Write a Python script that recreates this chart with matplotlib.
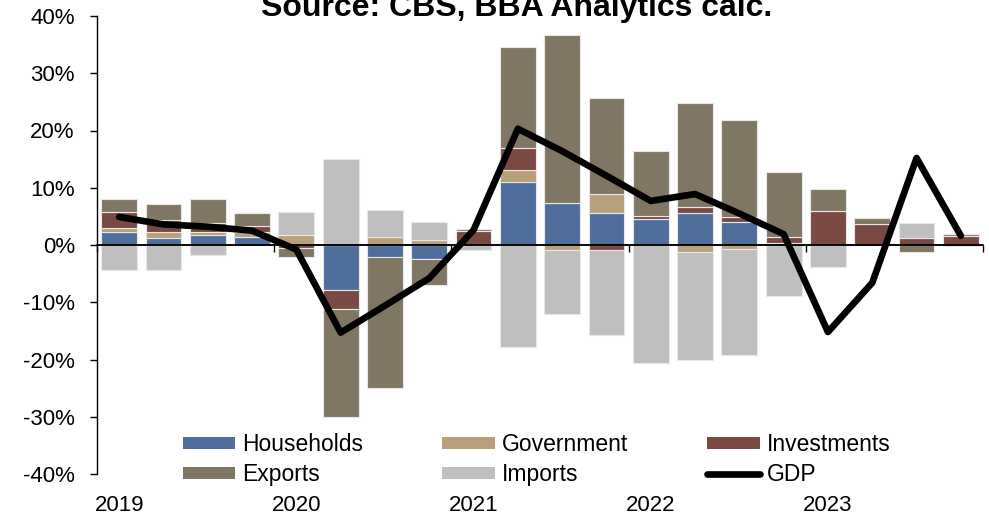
import matplotlib
matplotlib.use("Agg")
import matplotlib.pyplot as plt
import numpy as np
from matplotlib.patches import Patch
from matplotlib.lines import Line2D
from matplotlib.ticker import FixedLocator, FuncFormatter

plt.rcParams['font.family'] = ['Liberation Sans', 'DejaVu Sans']

# Quarterly contributions to GDP growth (percentage points), 2019Q1-2023Q4
quarters = [f"{y}Q{q}" for y in range(2019, 2024) for q in range(1, 5)]
years = ["2019", "2020", "2021", "2022", "2023"]

households = [2.2, 1.3, 1.7, 1.45, 0.2, -7.9, -2.1, -2.4, 0.0, 11.0,
              7.4, 5.6, 4.5, 5.6, 4.0, 0.0, 0.0, 0.0, 0.0, 0.0]
government = [0.75, 0.9, 0.5, 0.8, 1.5, 0.0, 1.4, 0.8, 0.0, 2.1,
              -0.9, 3.3, 0.0, -1.2, -0.7, 0.4, 0.0, 0.0, 0.0, -0.2]
investments = [2.8, 2.2, 1.6, 1.1, -0.6, -3.2, 0.0, 0.0, 2.4, 3.9,
               0.0, -0.8, 0.6, 1.0, 0.9, 1.0, 6.0, 3.6, 1.3, 1.5]
exports = [2.3, 2.7, 4.3, 2.2, -1.5, -19.0, -22.8, -4.5, 0.4, 17.6,
           29.2, 16.7, 11.3, 18.2, 17.0, 11.3, 3.7, 1.2, -1.3, 0.5]
imports = [-4.4, -4.4, -1.75, 0.0, 4.0, 15.0, 4.8, 3.3, -0.8, -17.9,
           -11.2, -14.9, -20.6, -18.8, -18.6, -8.9, -3.8, 0.0, 2.6, 0.0]
gdp = [4.9, 3.6, 3.2, 2.5, -0.8, -15.3, -10.6, -5.8, 2.6, 20.3,
       16.4, 12.1, 7.7, 8.9, 5.5, 1.9, -15.2, -6.6, 15.2, 1.6]

series = [
    ("Households", households, "#4F6E9B"),
    ("Government", government, "#B8A07C"),
    ("Investments", investments, "#7A4A42"),
    ("Exports", exports, "#7F7763"),
    ("Imports", imports, "#BFBFBF"),
]

W, H = 989, 517
fig = plt.figure(figsize=(W / 100, H / 100), dpi=100)
ax = fig.add_axes([97 / W, 1 - 474 / H, (983 - 97) / W, (474 - 16) / H])

x = np.arange(len(quarters))
pos_base = np.zeros(len(x))
neg_base = np.zeros(len(x))
handles = {}
for name, vals, color in series:
    v = np.array(vals, dtype=float)
    base = np.where(v >= 0, pos_base, neg_base)
    ax.bar(x, v, 0.81, bottom=base, color=color, edgecolor="#E8E8E8",
           linewidth=0.8, zorder=2)
    pos_base += np.where(v >= 0, v, 0)
    neg_base += np.where(v < 0, v, 0)
    handles[name] = Patch(facecolor=color, edgecolor="none")

ax.axhline(0, color="black", linewidth=1.1, zorder=3)
ax.plot(x, gdp, color="black", linewidth=4.8, solid_joinstyle="round",
        solid_capstyle="round", zorder=4)
handles["GDP"] = Line2D([], [], color="black", linewidth=4.8,
                        solid_capstyle="round")

ax.set_xlim(-0.5, len(x) - 0.5)
ax.set_ylim(-40, 40)
ax.yaxis.set_major_locator(FixedLocator(np.arange(-40, 41, 10)))
ax.yaxis.set_major_formatter(FuncFormatter(lambda v, p: f"{v:.0f}%"))
ax.tick_params(axis="y", direction="out", length=5, width=1, pad=11,
               labelsize=16)

for s in ("top", "right"):
    ax.spines[s].set_visible(False)
ax.spines["left"].set_linewidth(1.0)
ax.spines["bottom"].set_position(("data", 0))
ax.spines["bottom"].set_linewidth(1.1)
ax.xaxis.set_major_locator(FixedLocator(np.arange(-0.5, len(x), 4)))
ax.tick_params(axis="x", direction="out", length=5, width=1, labelbottom=False)

sec = ax.secondary_xaxis("bottom")
sec.set_xticks(np.arange(0, len(x), 4), years)
sec.tick_params(length=0, pad=15, labelsize=16)
sec.spines["bottom"].set_visible(False)

order = ["Households", "Exports", "Government", "Imports", "Investments", "GDP"]
ax.legend([handles[k] for k in order], order, ncol=3, frameon=False,
          fontsize=16.5, handlelength=2.3, handleheight=0.45,
          handletextpad=0.3, columnspacing=3.45, labelspacing=0.3,
          loc="upper left", bbox_to_anchor=((184 - 97) / (983 - 97) - 0.012,
                                            (474 - 424) / (474 - 16)),
          borderaxespad=0)

fig.text(517 / W, 1 - 16 / H, "Source: CBS, BBA Analytics calc.",
         ha="center", va="baseline", fontsize=23, fontweight="bold")

fig.savefig("out.png", dpi=100)
